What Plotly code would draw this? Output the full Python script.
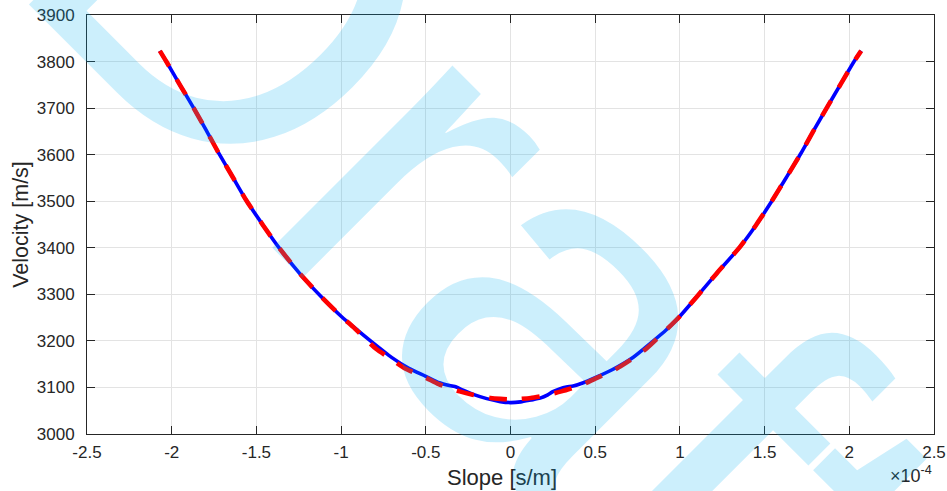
import plotly.graph_objects as go

# Slope axis values are in units of 1e-4 s/m (the axis carries a x10^-4 multiplier)
slope_picked = [-2.07, -2.03, -1.95, -1.87, -1.80, -1.725, -1.64, -1.56, -1.46, -1.36,
                -1.24, -1.12, -1.00, -0.90, -0.83, -0.70, -0.60, -0.50, -0.42, -0.36,
                -0.32, -0.28, -0.22, -0.14, -0.06, 0.00, 0.06, 0.12, 0.175, 0.22,
                0.25, 0.29, 0.33, 0.37, 0.43, 0.50, 0.60, 0.725, 0.833, 0.92,
                1.00, 1.10, 1.217, 1.355, 1.45, 1.542, 1.63, 1.713, 1.79, 1.866,
                1.95, 2.028, 2.07]
velocity_picked = [3823, 3799, 3749, 3700, 3655, 3605, 3552, 3502, 3448, 3397,
                   3343, 3296, 3253, 3222, 3201, 3164, 3141, 3124, 3110, 3104,
                   3101, 3094, 3085, 3076, 3069.5, 3067.5, 3069, 3073, 3077, 3084,
                   3091, 3097, 3101, 3103, 3110, 3121, 3138, 3165, 3197, 3224,
                   3253, 3295, 3345, 3402, 3449, 3500, 3552, 3602, 3652, 3700,
                   3752, 3800, 3823]

slope_fit = [-2.07, -2.03, -1.95, -1.87, -1.80, -1.725, -1.64, -1.56, -1.46, -1.36,
             -1.24, -1.12, -1.00, -0.92, -0.794, -0.70, -0.619, -0.50, -0.424,
             -0.30, -0.224, -0.12, -0.06, 0.00, 0.06, 0.12, 0.224, 0.30, 0.424,
             0.50, 0.619, 0.70, 0.794, 0.92, 1.00, 1.10, 1.217, 1.355,
             1.45, 1.542, 1.63, 1.713, 1.79, 1.866, 1.95, 2.028, 2.07]
velocity_fit = [3823, 3799, 3749, 3700, 3655, 3605, 3552, 3502, 3448, 3397,
                3343, 3296, 3253, 3227, 3183, 3160, 3140, 3121, 3107,
                3091.5, 3084.4, 3077.5, 3075.5, 3074.5, 3075.5, 3077.5, 3084.4, 3091.5, 3106,
                3119, 3139, 3157, 3181, 3224, 3253, 3295, 3345, 3402,
                3449, 3500, 3552, 3602, 3652, 3700, 3752, 3800, 3823]

x_ticks = [-2.5, -2, -1.5, -1, -0.5, 0, 0.5, 1, 1.5, 2, 2.5]
x_tick_text = ["-2.5", "-2", "-1.5", "-1", "-0.5", "0", "0.5", "1", "1.5", "2", "2.5"]
y_ticks = [3000, 3100, 3200, 3300, 3400, 3500, 3600, 3700, 3800, 3900]

FONT = "Liberation Sans, Arial, Helvetica, sans-serif"
AX = "#262626"
GRID = "#e3e3e3"

fig = go.Figure()
fig.add_trace(go.Scatter(
    x=slope_picked, y=velocity_picked, mode="lines",
    line=dict(color="#0000ff", width=3.6, shape="spline", smoothing=0.6),
    showlegend=False, hoverinfo="skip"))
fig.add_trace(go.Scatter(
    x=slope_fit, y=velocity_fit, mode="lines",
    line=dict(color="#ff0000", width=4.6, dash="18px,15px", shape="spline", smoothing=0.6),
    showlegend=False, hoverinfo="skip"))

axis_common = dict(
    showline=True, linecolor=AX, linewidth=1, mirror="ticks",
    ticks="inside", ticklen=8, tickwidth=1, tickcolor=AX,
    showgrid=True, gridcolor=GRID, gridwidth=1, zeroline=False,
    tickfont=dict(family=FONT, size=17, color=AX), automargin=False,
)

fig.update_xaxes(
    range=[-2.5, 2.5], tickvals=x_ticks, ticktext=x_tick_text, ticklabelstandoff=3,
    **axis_common)
fig.update_yaxes(
    range=[3000, 3900], tickvals=y_ticks, ticklabelstandoff=8,
    title=dict(text="Velocity [m/s]", font=dict(family=FONT, size=21.5, color=AX), standoff=2),
    **axis_common)

# x-axis label
fig.add_annotation(
    text="Slope [s/m]", xref="paper", yref="paper", x=0.4894, y=-0.105,
    xanchor="center", yanchor="middle", showarrow=False,
    font=dict(family=FONT, size=22, color=AX))

# axis multiplier label
fig.add_annotation(
    text="\u00d710<sup>-4</sup>", xref="paper", yref="paper", x=1.0, y=-0.065,
    xanchor="right", yanchor="top", showarrow=False,
    font=dict(family=FONT, size=18, color=AX))

# translucent "Draft" stamp across the figure
fig.add_annotation(
    text="Draft", xref="paper", yref="paper", x=0.478, y=0.486,
    xanchor="center", yanchor="middle", showarrow=False, textangle=45,
    font=dict(family=FONT, size=485, color="rgba(0,176,240,0.2)"))

fig.update_layout(
    width=947, height=491,
    margin=dict(l=87, r=13, t=15, b=57, autoexpand=False),
    paper_bgcolor="white", plot_bgcolor="white",
)

fig.write_html("out.html")
